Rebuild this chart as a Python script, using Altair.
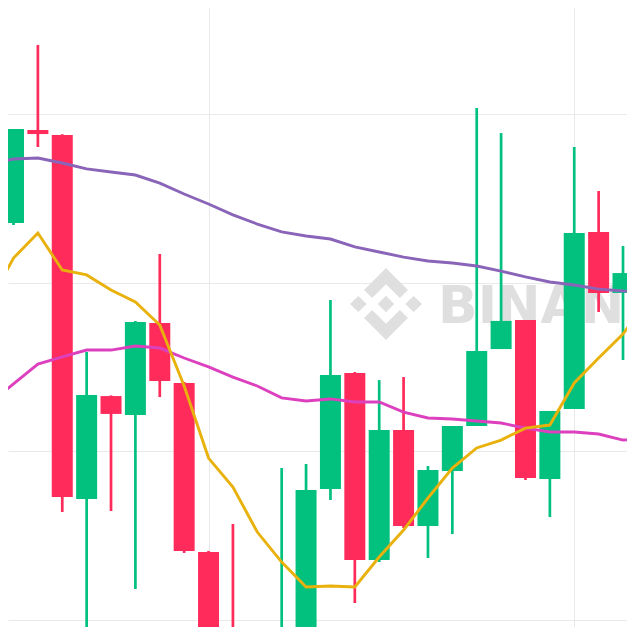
import altair as alt
import pandas as pd

# candle index (0..25) and OHLC prices
idx = list(range(26))
opens = [29335.3, 29390.5, 29387.5, 29171.5, 29232.6, 29221.4, 29276.0, 29240.4, 29140.1, 29083.1,
         29052.2, 29043.3, 29052.2, 29177.4, 29246.3, 29135.3, 29212.5, 29155.5, 29188.1, 29214.8,
         29260.5, 29277.7, 29183.4, 29224.9, 29330.0, 29293.8]
highs = [29391.1, 29441.0, 29388.0, 29258.8, 29233.0, 29277.2, 29316.9, 29241.0, 29140.7, 29156.7,
         29084.9, 29189.9, 29192.3, 29289.6, 29246.9, 29242.1, 29243.9, 29191.1, 29214.8, 29403.6,
         29388.7, 29277.7, 29223.7, 29380.4, 29354.3, 29321.7]
lows = [29334.1, 29380.4, 29163.8, 29076.0, 29164.4, 29118.1, 29232.0, 29139.5, 29073.0, 29045.1,
        29034.4, 29031.5, 29045.1, 29170.9, 29109.8, 29134.1, 29154.3, 29136.5, 29150.7, 29214.8,
        29260.5, 29182.8, 29160.8, 29224.9, 29282.5, 29254.0]
closes = [29391.1, 29388.1, 29172.7, 29233.2, 29222.0, 29276.6, 29241.5, 29140.7, 29084.3, 29052.2,
          29046.3, 29087.8, 29176.9, 29245.1, 29135.3, 29212.5, 29155.5, 29188.7, 29214.8, 29259.3,
          29277.2, 29184.0, 29223.7, 29329.4, 29293.8, 29305.6]

# moving averages, index -1..26
ma_idx = list(range(-1, 27))
ma7 = [29287.8, 29314.5, 29329.4, 29307.4, 29304.5, 29295.5, 29288.4, 29274.8, 29238.6, 29195.8,
       29178.6, 29151.9, 29134.1, 29119.3, 29119.9, 29119.3, 29137.1, 29153.1, 29172.1, 29189.9,
       29201.8, 29206.5, 29213.6, 29215.4, 29240.4, 29255.2, 29269.4, 29289.6]
ma25 = [29227.9, 29239.8, 29251.6, 29255.8, 29259.9, 29259.9, 29262.3, 29261.1, 29255.2, 29249.9,
        29243.9, 29238.6, 29231.5, 29229.7, 29230.9, 29229.1, 29229.1, 29223.1, 29219.6, 29219.0,
        29217.8, 29216.6, 29213.6, 29211.3, 29211.3, 29210.1, 29206.5, 29207.1]
ma99 = [29369.7, 29373.3, 29373.9, 29370.9, 29367.4, 29365.6, 29363.8, 29359.0, 29352.5, 29346.6,
        29340.1, 29334.7, 29330.0, 29327.6, 29325.8, 29321.1, 29318.1, 29315.1, 29312.8, 29311.6,
        29309.8, 29306.8, 29303.3, 29300.3, 29298.5, 29296.1, 29295.0, 29294.4]

x_grid = [8, 23]
y_grid = [29100, 29200, 29300, 29400]

GREEN = "#02C07E"
RED = "#FF2B5B"

candles = pd.DataFrame({"i": idx, "open": opens, "high": highs, "low": lows, "close": closes})
mas = pd.DataFrame({"i": ma_idx, "MA7": ma7, "MA25": ma25, "MA99": ma99})

xs = alt.Scale(domain=[-0.2256, 25.164], nice=False, zero=False, padding=0)
ys = alt.Scale(domain=[29095.55, 29462.91], nice=False, zero=False, padding=0)

xax = alt.Axis(values=x_grid, grid=True, labels=False, ticks=False, domain=False, title=None,
               gridColor="#E9E9E9", gridWidth=1)
yax = alt.Axis(values=y_grid, grid=True, labels=False, ticks=False, domain=False, title=None,
               gridColor="#E9E9E9", gridWidth=1)

color_cond = alt.condition("datum.close >= datum.open", alt.value(GREEN), alt.value(RED))

base = alt.Chart(candles)

wicks = base.mark_rule(strokeWidth=2.7, clip=True).encode(
    x=alt.X("i:Q", scale=xs, axis=xax),
    y=alt.Y("low:Q", scale=ys, axis=yax),
    y2="high:Q",
    color=color_cond,
)

bodies = base.mark_bar(size=21, clip=True).encode(
    x=alt.X("i:Q", scale=xs),
    y=alt.Y("open:Q", scale=ys),
    y2="close:Q",
    color=color_cond,
)

logo_path = ("M-0.3858,-0.1649L0,-0.5507L0.386,-0.1649L0.6104,-0.3892L0,-1L-0.6102,-0.3893Z"
             "M-1,0L-0.7675,-0.2244L-0.5354,0L-0.7675,0.2244Z"
             "M-0.3858,0.1649L0,0.5507L0.386,0.1649L0.6104,0.3892L0,1L-0.6102,0.3893Z"
             "M1,0L0.7675,-0.2244L0.5354,0L0.7675,0.2244Z"
             "M0.2276,0L0,-0.2279L-0.2276,0L0,0.2273Z")

wm_df = pd.DataFrame({"t": ["BINANCE"]})
logo = alt.Chart(wm_df).mark_point(shape=logo_path, filled=True, size=5184, color="#DFDFDF",
                                   opacity=1, strokeWidth=0).encode(
    x=alt.value(378), y=alt.value(296))
wm_text = alt.Chart(wm_df).mark_text(align="left", baseline="alphabetic", font="DejaVu Sans",
                                     fontWeight="bold", fontSize=52, color="#DFDFDF").encode(
    x=alt.value(430), y=alt.value(315), text="t:N")

def ma_line(col, color):
    return alt.Chart(mas).mark_line(strokeWidth=2.9, color=color, clip=True).encode(
        x=alt.X("i:Q", scale=xs),
        y=alt.Y(f"{col}:Q", scale=ys),
    )

chart = alt.layer(
    logo, wm_text, wicks, bodies,
    ma_line("MA99", "#8A64B8"),
    ma_line("MA25", "#DC40BE"),
    ma_line("MA7", "#E8B10C"),
).properties(
    width=619, height=619, padding=0, autosize="none", background="white"
).configure_view(stroke=None)

chart.save("out.html", embed_options={"renderer": "svg", "actions": False})
